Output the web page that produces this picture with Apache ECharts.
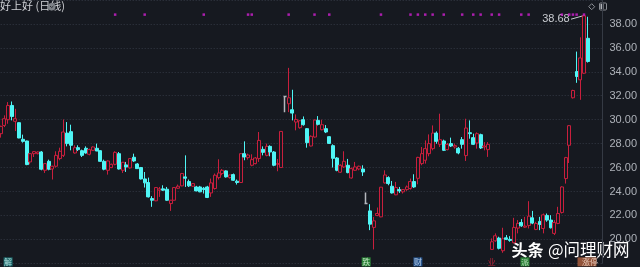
<!DOCTYPE html>
<html><head><meta charset="utf-8">
<script src="https://cdn.jsdelivr.net/npm/echarts/dist/echarts.min.js"></script>
<style>html,body{margin:0;padding:0;background:#161920;}#c{width:640px;height:267px;}</style>
</head><body><div id="c"></div>
<script>
const titleText = '好上好 (日线)';
const watermark = ['头条', '@问理财网'];
// [open, close, low, high]
const seg1 = [
[28.83,29.44,28.5,29.5],[29.52,30.08,29.38,30.36],[30.0,31.19,29.66,31.47],[31.19,30.27,29.94,31.52],
[29.86,30.08,29.05,30.91],[29.75,28.47,28.45,29.78],[28.36,28.19,28.08,28.75],[28.22,26.25,26.2,28.25],
[26.47,27.16,26.27,27.2],[27.16,27.33,26.88,27.38],[27.16,27.30,27.1,27.35],[27.30,25.86,25.77,27.38],
[25.77,26.33,25.55,26.35],[26.52,25.86,25.77,26.66],[25.88,26.11,25.0,26.15],[26.11,27.02,26.0,27.36],
[26.75,27.36,26.61,27.66],[27.02,28.97,26.88,30.02],[28.88,28.0,27.77,29.8],[29.0,27.86,27.44,29.58],
[27.22,27.66,27.16,27.86],[27.66,27.5,27.38,27.86],[27.41,27.02,26.88,27.5],[27.61,27.22,27.16,27.77],
[27.11,27.5,27.02,27.58],[27.44,27.72,27.38,27.77],[27.61,27.38,27.38,28.0],[27.41,26.52,26.47,27.44],
[26.52,25.86,25.77,26.66],[25.77,26.55,25.41,26.6],[26.0,26.27,25.95,26.33],[26.27,27.27,26.19,27.36],
[27.16,25.88,25.83,27.3],[25.77,26.44,25.55,26.47],[26.22,26.05,25.63,26.47],[25.97,26.75,25.91,26.8],
[26.86,26.55,26.47,27.16],[26.3,25.91,25.88,26.38],[26.0,25.05,25.0,26.05],[25.05,24.72,24.33,25.63],
[24.75,23.55,23.5,25.16],[23.41,23.27,22.72,23.61],[23.22,24.33,23.19,24.36],[24.11,24.22,23.55,24.38],
[24.22,24.11,24.05,24.52],[24.19,23.27,23.22,24.38],[22.99,23.27,22.38,23.3],[23.27,24.33,23.25,24.36],
[24.27,24.44,24.22,24.58],[24.47,25.5,24.44,25.55],[25.22,25.11,24.38,27.02],[24.83,24.47,24.38,25.0],
[24.44,24.66,24.4,24.7],[24.38,24.05,24.02,24.47],[24.38,23.97,23.94,24.47],[24.27,24.16,23.83,24.38],
[24.38,23.5,23.45,24.47]
];
const seg2 = [
[23.88,24.72,23.55,25.08],[24.25,25.36,24.16,25.5],[25.16,25.55,25.0,26.69],[25.5,25.77,25.36,25.88],
[25.72,25.22,25.16,25.77],[25.16,25.38,25.08,25.4],[25.41,24.94,24.88,25.5],[24.86,24.75,24.58,25.0],
[24.75,27.16,24.72,27.22],[27.16,26.88,26.61,28.19],[26.83,27.05,26.66,27.16],[26.19,26.66,26.11,27.11],
[26.33,26.8,26.27,26.88],[26.75,28.27,26.47,28.97],[27.52,27.27,27.02,27.77],[27.02,27.77,26.94,28.0],
[27.77,27.3,26.94,27.86],[27.3,26.19,26.11,27.38],[26.27,26.33,25.69,26.72],[26.0,29.02,25.97,29.05],
[31.94,31.94,30.63,31.94],[31.33,31.83,30.63,34.33],[30.83,30.55,29.94,32.5],[29.8,30.02,29.11,30.44],
[29.33,29.91,29.25,29.94],[30.0,29.58,29.5,30.27],[29.25,28.08,27.66,29.3],[27.8,28.61,27.77,28.69],
[28.55,29.97,28.5,30.02],[29.94,29.61,29.52,30.3],[29.16,29.58,29.11,30.0],[29.25,28.97,28.88,29.55],
[28.58,28.02,27.99,28.61],[27.83,26.77,26.0,27.94],[26.8,25.77,25.69,26.88],[25.61,26.19,25.55,26.27],
[26.05,26.52,25.97,27.36],[26.19,25.58,25.52,26.72],[25.13,25.91,25.08,26.0],[25.77,26.05,25.72,26.47],
[25.88,26.11,25.77,26.16],[25.88,25.63,25.3,26.19],[23.0,23.0,23.0,23.91],[22.38,21.27,20.77,22.94],
[21.0,21.55,19.16,21.88],[21.99,22.16,21.94,22.66],[21.88,24.36,21.85,24.38],[24.72,25.38,24.66,25.77],
[25.16,24.66,24.52,25.27],[24.44,23.88,23.83,24.88],[23.72,24.33,23.69,24.8],[24.16,24.05,23.88,24.38],
[23.97,24.16,23.83,24.19],[24.16,24.38,24.05,24.5],[24.25,24.83,24.16,25.08],[24.83,24.38,24.3,25.44]
];
const seg3 = [
[25.1,26.85,24.6,26.9],[26.33,27.16,26.19,27.72],[26.61,27.58,26.33,28.27],[27.16,28.0,26.94,28.77],
[27.58,28.88,27.44,29.52],[28.88,28.19,27.99,29.02],[27.94,28.33,27.72,30.5],[28.22,27.44,27.38,28.33],
[27.5,27.94,27.44,28.05],[28.0,27.8,27.72,28.5],[27.72,27.83,27.58,28.0],[27.61,27.22,27.11,27.72],
[28.33,27.94,27.58,28.55],[27.0,29.3,26.55,30.08],[28.91,28.83,28.41,29.94],[28.5,27.94,27.88,28.83],
[28.05,28.83,27.58,28.94],[28.75,27.64,27.55,28.83],[27.72,27.8,27.44,28.13],[27.5,27.94,26.89,28.13],
[19.16,19.8,19.11,20.08],[19.88,20.3,19.8,20.5],[20.11,19.25,19.16,20.22],[19.05,20.05,18.88,20.97],
[20.13,20.0,19.94,20.36],[20.0,19.91,19.8,20.27],[19.72,21.0,19.66,21.8],[20.94,21.33,20.5,21.61],
[21.41,21.13,21.05,21.69],[21.02,21.11,20.97,21.88],[21.16,21.94,20.91,23.19],[21.8,21.36,21.27,22.38],
[20.83,21.33,20.77,21.47],[21.5,21.25,20.77,21.88],[20.91,22.05,20.5,22.16],[22.0,21.61,21.47,22.16],
[21.61,20.97,20.91,22.02],[20.5,21.41,20.36,21.61],[21.33,22.16,21.27,22.72],[22.25,24.38,22.16,24.44],
[25.08,26.83,24.66,26.89],[27.86,29.5,26.38,29.55],[31.83,32.44,31.77,32.5],[34.02,33.61,33.08,35.69],
[33.33,35.16,31.66,36.88],[33.88,38.68,33.83,38.68],[36.8,34.86,34.77,38.6]
];
const grayIdx = [77, 99];
const topMarkIdx = [31,39,55,67,68,78,85,89,103,111,113,115,117,120,125,128,130,133,135,141,143,152,154,155,156,158];
const topMarkLevel = 38.78;
const eventIdx = [2, 99, 113, 133, 142, 158];
const eventText = ['解', '跌', '财', '业', '派', '涨停'];
const eventBg = ['#1f7d80', '#2f9a3c', '#2a62a6', 'transparent', '#2f9a3c', '#b0603e'];
const eventFg = ['#cff5f2', '#d8f5d8', '#d6e6fa', '#e0263f', '#d8f5d8', '#fbe3d6'];
const eventLevel = 18.12;
const blankSlots = 4;

const BG = '#161920', UP = '#c91f3d', DOWN = '#4ff5f5', GRAY = '#b4b7bd';
const ohlc = seg1.concat(seg2, seg3);
const cats = ohlc.map((_, i) => String(i)).concat(Array.from({length: blankSlots}, (_, k) => 'e' + k));
const candleData = ohlc.map((d, i) => grayIdx.includes(i)
  ? {value: d, itemStyle: {color: GRAY, color0: GRAY, borderColor: GRAY, borderColor0: GRAY, borderColorDoji: GRAY, borderWidth: 1.5}}
  : d);

const chart = echarts.init(document.getElementById('c'));
const option = {
  backgroundColor: BG,
  animation: false,
  grid: {left: 0.7, right: 30, top: -0.7, height: 264},
  xAxis: {type: 'category', data: cats, boundaryGap: false,
    axisLine: {show: false}, axisTick: {show: false}, axisLabel: {show: false}, splitLine: {show: false}},
  yAxis: {type: 'value', position: 'right', min: 18, max: 40, interval: 2, scale: true,
    axisLine: {show: true, lineStyle: {color: '#353a44'}}, axisTick: {show: false},
    axisLabel: {color: '#aeb2b9', fontSize: 11, fontFamily: 'Liberation Sans', margin: 7,
      formatter: v => (v <= 18 || v >= 40) ? '' : v.toFixed(2)},
    splitLine: {show: true, lineStyle: {type: [1, 2], color: '#343944'}}},
  series: [
    {type: 'candlestick', data: candleData, barWidth: 3.5, clip: false,
      itemStyle: {color: BG, color0: DOWN, borderColor: UP, borderColor0: DOWN, borderColorDoji: UP, borderWidth: 1}},
    {type: 'scatter', data: topMarkIdx.map(i => [i, topMarkLevel]), symbol: 'rect', symbolSize: [2.5, 2.5],
      itemStyle: {color: '#d21fd2'}, silent: true, clip: false},
    {type: 'scatter', clip: false, silent: true,
      data: eventIdx.map((i, k) => ({
        value: [i, eventLevel],
        symbol: 'rect',
        symbolSize: eventText[k].length > 1 ? [19, 9] : [9, 9],
        symbolOffset: eventText[k].length > 1 ? [3, 0] : [0, 0],
        itemStyle: {color: eventBg[k]},
        label: {show: true, position: 'inside', formatter: eventText[k], color: eventFg[k],
          fontSize: 8, fontFamily: 'Noto Sans CJK SC', offset: eventText[k].length > 1 ? [3, 0] : [0, 0]}
      }))}
  ],
  graphic: []
};
chart.setOption(option);

// annotate the highest price
let hi = -Infinity, hiIdx = 0;
ohlc.forEach((d, i) => { if (d[3] > hi) { hi = d[3]; hiIdx = i; } });
const p = chart.convertToPixel({gridIndex: 0}, [hiIdx, hi]);
chart.setOption({graphic: [
  {type: 'text', left: 0, top: 0.5, style: {text: titleText, fill: '#cfd1d5', font: '11px "Noto Sans CJK SC"'}},
  {type: 'circle', shape: {cx: 51.7, cy: 6.7, r: 3.8}, style: {fill: '#7e8288'}},
  {type: 'polyline', shape: {points: [[50, 6], [51.7, 7.6], [53.4, 6]]}, style: {stroke: '#2a2d33', lineWidth: 1, fill: null}},
  {type: 'polygon', shape: {points: [[591.7, 3.7], [594.7, 6.7], [591.7, 9.7], [588.7, 6.7]]}, style: {stroke: '#8a8d93', fill: null, lineWidth: 1}},
  {type: 'rect', shape: {x: 599.5, y: 3, width: 7, height: 7, r: 1}, style: {stroke: '#8a8d93', fill: null, lineWidth: 1}},
  {type: 'rect', shape: {x: 600.5, y: 4, width: 3, height: 5}, style: {fill: '#b0b3b8'}},
  {type: 'text', x: p[0] - 14.3, y: p[1] + 3.6, style: {text: hi.toFixed(2), fill: '#c8cbd0', font: '11px "Liberation Sans"', align: 'right', verticalAlign: 'middle'}},
  {type: 'line', shape: {x1: p[0] - 13, y1: p[1] + 3.4, x2: p[0] - 1, y2: p[1]}, style: {stroke: '#c8cbd0', lineWidth: 1}},
  {type: 'text', x: 511.5, y: 250, style: {text: watermark[0], fill: '#ffffff', font: 'bold 16px "Noto Sans CJK SC"', verticalAlign: 'middle',
    shadowColor: 'rgba(0,0,0,0.7)', shadowBlur: 3}},
  {type: 'text', x: 548, y: 250, style: {text: watermark[1], fill: '#ffffff', font: '16.5px "Noto Sans CJK SC"', verticalAlign: 'middle',
    shadowColor: 'rgba(0,0,0,0.7)', shadowBlur: 3}}
]});
</script>
</body></html>
